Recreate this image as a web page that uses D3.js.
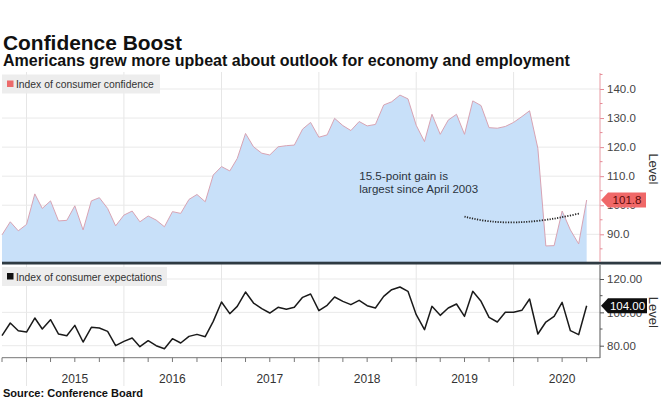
<!DOCTYPE html>
<html><head><meta charset="utf-8">
<script src="https://cdn.jsdelivr.net/npm/d3@7"></script>
<style>
html,body{margin:0;padding:0;background:#fff;}
svg{display:block;font-family:"Liberation Sans",Arial,sans-serif;}
</style></head>
<body>
<svg id="chart" width="671" height="415"></svg>
<script>
// ---- data (Sep 2014 .. Sep 2020, monthly) ----
const startMonth = new Date(2014, 8, 1);
const endMonth = new Date(2020, 8, 1);
const confidence = [89.8,94.3,91.2,93.4,103.9,98.9,101.5,94.6,94.8,99.8,91.5,101.5,102.6,98.9,92.9,96.6,98.0,94.3,96.3,94.9,92.6,97.8,97.2,102.0,103.7,
 101.2,110.4,113.3,111.8,116.1,124.7,120.1,117.9,117.3,120.1,120.5,120.7,126.2,128.5,123.4,124.2,129.9,127.4,125.7,128.8,127.3,127.8,134.5,135.6,
 137.9,136.6,127.5,121.9,131.3,124.4,129.3,131.3,124.4,135.9,134.3,126.7,126.5,127.1,128.5,130.5,132.5,119.6,86.0,86.1,98.0,91.5,86.7,101.8];
const expectations = [86.0,93.6,89.0,88.2,96.6,90.0,95.6,87.0,86.0,92.2,82.2,91.0,90.6,88.6,80.0,82.6,84.6,79.4,83.0,80.0,78.2,84.2,81.6,85.6,86.8,
 85.4,94.6,106.2,99.2,103.6,112.2,105.6,102.2,99.6,103.0,101.8,103.0,109.0,111.0,101.0,104.2,109.2,106.6,104.6,107.2,104.0,102.6,109.6,113.6,
 115.2,112.6,98.6,89.6,103.6,98.2,102.6,105.0,97.6,112.6,106.6,97.0,94.2,100.0,100.0,101.2,108.0,87.0,94.2,97.6,106.0,89.0,86.6,104.0];
const years = [2015, 2016, 2017, 2018, 2019, 2020];
const topTicks = [90, 100, 110, 120, 130, 140];
const botTicks = [80, 100, 120];
const title = "Confidence Boost";
const subtitle = "Americans grew more upbeat about outlook for economy and employment";
const source = "Source: Conference Board";
const legendTop = "Index of consumer confidence";
const legendBot = "Index of consumer expectations";
const note = ["15.5-point gain is", "largest since April 2003"];
const lastConf = "101.8", lastExp = "104.00";

// ---- build ----
const months = d3.timeMonth.range(startMonth, d3.timeMonth.offset(endMonth, 1));
const dates = months.map(m => d3.timeMonth.offset(m, 1)); // plotted at month end
const confData = dates.map((d, i) => ({d, v: confidence[i]}));
const expData = dates.map((d, i) => ({d, v: expectations[i]}));

const svg = d3.select("#chart");
const X0 = 2, X1 = 600;
const x = d3.scaleTime().domain([new Date(2014, 9, 1), new Date(2020, 10, 20)]).range([X0, X1]);
const yT = d3.scaleLinear().domain([80.47, 145.5]).range([262, 73]);
const yB = d3.scaleLinear().domain([72.8, 128.4]).range([357.7, 265]);

function fit(sel, w) {
  const n = sel.node(); const fs = parseFloat(sel.attr("font-size"));
  const cw = n.getComputedTextLength();
  sel.attr("font-size", (fs * w / cw).toFixed(2));
}

// titles
fit(svg.append("text").attr("x", 3).attr("y", 49.5).attr("font-size", 21).attr("font-weight", "bold").attr("fill", "#111").text(title), 179);
fit(svg.append("text").attr("x", 3).attr("y", 66).attr("font-size", 14).attr("font-weight", "bold").attr("fill", "#111").text(subtitle), 567);

// year gridlines
const yearStarts = years.map(y => new Date(y, 0, 1));
svg.append("g").selectAll("line").data(yearStarts).join("line")
  .attr("x1", d => x(d)).attr("x2", d => x(d)).attr("y1", 72).attr("y2", 386)
  .attr("stroke", "#e6e6e6").attr("stroke-width", 1);

// horizontal gridlines
svg.append("g").selectAll("line").data(topTicks).join("line")
  .attr("x1", X0).attr("x2", X1).attr("y1", d => yT(d)).attr("y2", d => yT(d))
  .attr("stroke", "#e9e9e9");
svg.append("g").selectAll("line").data(botTicks).join("line")
  .attr("x1", X0).attr("x2", X1).attr("y1", d => yB(d)).attr("y2", d => yB(d))
  .attr("stroke", "#e9e9e9");

// top area
const area = d3.area().x(d => x(d.d)).y0(262).y1(d => yT(d.v));
svg.append("path").datum(confData).attr("d", area).attr("fill", "#c8e0f9");
svg.append("path").datum(confData).attr("d", d3.line().x(d => x(d.d)).y(d => yT(d.v)))
  .attr("fill", "none").attr("stroke", "#d8a3b3").attr("stroke-width", 1);

// bottom line
svg.append("path").datum(expData).attr("d", d3.line().x(d => x(d.d)).y(d => yB(d.v)))
  .attr("fill", "none").attr("stroke", "#1a1a1a").attr("stroke-width", 1.5).attr("stroke-linejoin", "round");

// separator
svg.append("rect").attr("x", X0).attr("y", 261.7).attr("width", 659).attr("height", 2.8).attr("fill", "#2e3a42");

// legends
function legend(yTop, w, color, label) {
  const g = svg.append("g");
  g.append("rect").attr("x", X0).attr("y", yTop).attr("width", w).attr("height", 19).attr("fill", "#ececec").attr("opacity", 0.92);
  g.append("rect").attr("x", 7).attr("y", yTop + 6).attr("width", 6.5).attr("height", 6.5).attr("fill", color);
  const t = g.append("text").attr("x", 16).attr("y", yTop + 13.5).attr("font-size", 11).attr("fill", "#333").text(label);
  return t;
}
fit(legend(74.5, 158, "#ec6a6a", legendTop), 138);
fit(legend(267, 165, "#111", legendBot), 146);

// right axes
const axT = d3.axisRight(yT).tickValues(topTicks).tickFormat(d3.format(".1f")).tickSize(4).tickPadding(3);
const gT = svg.append("g").attr("transform", `translate(${X1},0)`).call(axT);
gT.select(".domain").remove();
gT.selectAll(".tick line").attr("stroke", "#e58a95");
gT.selectAll("text").attr("font-size", 11.5).attr("fill", "#444").attr("font-family", "Liberation Sans, Arial");
svg.append("line").attr("x1", X1).attr("x2", X1).attr("y1", 73).attr("y2", 262).attr("stroke", "#e89aa3");
svg.append("g").selectAll("line").data(d3.range(85, 146, 10)).join("line")
  .attr("x1", X1).attr("x2", X1 + 2.5).attr("y1", d => yT(d)).attr("y2", d => yT(d)).attr("stroke", "#e58a95");

const axB = d3.axisRight(yB).tickValues(botTicks).tickFormat(d3.format(".2f")).tickSize(4).tickPadding(3);
const gB = svg.append("g").attr("transform", `translate(${X1},0)`).call(axB);
gB.select(".domain").remove();
gB.selectAll(".tick line").attr("stroke", "#555");
gB.selectAll("text").attr("font-size", 11.5).attr("fill", "#444").attr("font-family", "Liberation Sans, Arial");
svg.append("line").attr("x1", X1).attr("x2", X1).attr("y1", 265).attr("y2", 358).attr("stroke", "#555");
svg.append("g").selectAll("line").data([90, 110]).join("line")
  .attr("x1", X1).attr("x2", X1 + 2.5).attr("y1", d => yB(d)).attr("y2", d => yB(d)).attr("stroke", "#555");

// "Level" titles
[[yT(112.5)], [yB(100)]].forEach(([cy]) => {
  svg.append("text").attr("transform", `translate(649,${cy}) rotate(90)`).attr("text-anchor", "middle")
    .attr("font-size", 13).attr("fill", "#333").text("Level");
});

// last value flags
function flag(cy, fill, tcol, label, w) {
  const g = svg.append("g");
  g.append("path").attr("d", `M${X1 + 1},${cy} L${X1 + 8},${cy - 7.5} L${X1 + w},${cy - 7.5} L${X1 + w},${cy + 7.5} L${X1 + 8},${cy + 7.5} Z`)
    .attr("fill", fill);
  g.append("text").attr("x", X1 + 8 + (w - 8) / 2).attr("y", cy + 4).attr("text-anchor", "middle")
    .attr("font-size", 11.5).attr("fill", tcol).text(label);
}
flag(yT(confidence[confidence.length - 1]), "#f06868", "#5c0a0a", lastConf, 46);
flag(yB(expectations[expectations.length - 1]), "#0d0d0d", "#fff", lastExp, 47);

// x axis
svg.append("line").attr("x1", X0).attr("x2", X1).attr("y1", 357.7).attr("y2", 357.7).attr("stroke", "#777");
const qTicks = d3.timeMonth.every(3).range(new Date(2014, 9, 1), new Date(2020, 10, 2));
svg.append("g").selectAll("line").data(qTicks).join("line")
  .attr("x1", d => x(d)).attr("x2", d => x(d)).attr("y1", 357.7).attr("y2", 362).attr("stroke", "#777");
svg.append("g").selectAll("text").data(years).join("text")
  .attr("x", d => x(new Date(d, 6, 1))).attr("y", 383).attr("text-anchor", "middle")
  .attr("font-size", 12).attr("fill", "#333").text(d => d);

// annotation
const tx = x(new Date(2018, 5, 1));
fit(svg.append("text").attr("x", tx).attr("y", yT(108.7)).attr("font-size", 11.5).attr("fill", "#2b3440").text(note[0]), 89);
fit(svg.append("text").attr("x", tx).attr("y", yT(104.3)).attr("font-size", 11.5).attr("fill", "#2b3440").text(note[1]), 119);
const p0 = [x(new Date(2019, 6, 1)), yT(96.1)], pc = [x(new Date(2019, 11, 25)), yT(91.6)], p2 = [x(new Date(2020, 8, 5)), yT(97.2)];
svg.append("path").attr("d", `M${p0[0]},${p0[1]} Q${pc[0]},${pc[1]} ${p2[0]},${p2[1]}`)
  .attr("fill", "none").attr("stroke", "#222").attr("stroke-width", 1.8).attr("stroke-dasharray", "1.2,1.4");

// source
fit(svg.append("text").attr("x", 3).attr("y", 397).attr("font-size", 10.5).attr("font-weight", "bold").attr("fill", "#111").text(source), 140);
</script>
</body></html>
